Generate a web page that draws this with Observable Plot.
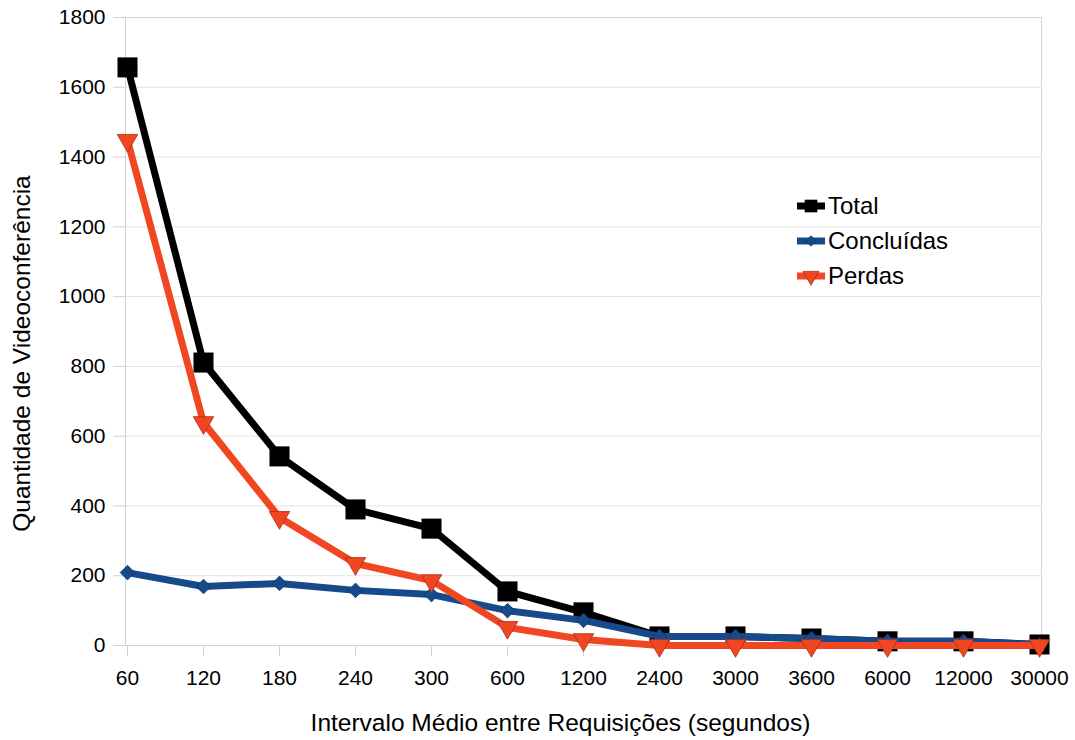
<!DOCTYPE html>
<html>
<head>
<meta charset="utf-8">
<script src="https://cdn.jsdelivr.net/npm/d3@7"></script>
<script src="https://cdn.jsdelivr.net/npm/@observablehq/plot@0.6"></script>
<style>
  body { margin: 0; background: #fff; font-family: "Liberation Sans", Arial, sans-serif; }
  #wrap { position: relative; width: 1075px; height: 740px; }
  #legend { position: absolute; left: 797px; top: 188px; font-size: 24px; color: #000; }
  #legend .row { display: flex; align-items: center; height: 35px; }
  #legend svg { margin-right: 3px; }
</style>
</head>
<body>
<div id="wrap"><div id="legend"></div></div>
<script>
const categories = ["60","120","180","240","300","600","1200","2400","3000","3600","6000","12000","30000"];
const total      = [1657, 811, 542, 390, 335, 155, 95, 26, 26, 20, 12, 12, 3];
const concluidas = [209, 169, 178, 158, 146, 100, 72, 26, 26, 20, 12, 12, 2];
const perdas     = [1448, 639, 367, 235, 186, 52, 17, 0, 0, 0, 0, 0, 0];
const seriesNames = ["Total", "Concluídas", "Perdas"];
const yTicks = [0, 200, 400, 600, 800, 1000, 1200, 1400, 1600, 1800];
const xTitle = "Intervalo Médio entre Requisições (segundos)";
const yTitle = "Quantidade de Videoconferência";

const colors = {"Total": "#000000", "Concluídas": "#174a8b", "Perdas": "#f04722"};
const symbols = {"Total": "square", "Concluídas": "diamond2", "Perdas": "triangle"};
const rotates = {"Total": 0, "Concluídas": 0, "Perdas": 180};
const radii = {"Total": 11.3, "Concluídas": 6.6, "Perdas": 7.6};
const strokes = {"Total": "none", "Concluídas": "#0e3566", "Perdas": "#a8301a"};

const rows = [];
[total, concluidas, perdas].forEach((vals, i) => {
  vals.forEach((v, j) => rows.push({series: seriesNames[i], cat: categories[j], value: v}));
});

const marks = [
  Plot.gridY(yTicks, {stroke: "#e3e3e3", strokeOpacity: 1}),
  Plot.frame({stroke: "#d2d2d2"}),
  Plot.axisY(yTicks, {tickSize: 12, tickPadding: 8, stroke: "#d2d2d2", fill: "#000", fontSize: 21, tickFormat: "d", label: null}),
  Plot.axisX({tickSize: 11, tickPadding: 14, stroke: "#d2d2d2", fill: "#000", fontSize: 21, label: null}),
  Plot.text([xTitle], {frameAnchor: "bottom", dx: -23, dy: 85, fontSize: 24.5, fill: "#000", text: d => d}),
  Plot.text([yTitle], {frameAnchor: "left", dx: -103, dy: 22, rotate: -90, textAnchor: "middle", fontSize: 24.5, fill: "#000", text: d => d})
];
for (const s of seriesNames) {
  const data = rows.filter(r => r.series === s);
  marks.push(Plot.line(data, {x: "cat", y: "value", stroke: colors[s], strokeWidth: 7}));
  marks.push(Plot.dot(data, {x: "cat", y: "value", symbol: symbols[s], r: radii[s], fill: colors[s], stroke: strokes[s], strokeWidth: 0.8, rotate: rotates[s]}));
}

const chart = Plot.plot({
  width: 1075,
  height: 740,
  marginLeft: 125,
  marginRight: 34,
  marginTop: 17,
  marginBottom: 95,
  style: {fontFamily: "Liberation Sans, Arial, sans-serif", fontSize: "21px", color: "#000", background: "#fff"},
  x: {type: "point", domain: categories, padding: 0},
  y: {domain: [0, 1800]},
  marks
});
document.getElementById("wrap").prepend(chart);

// legend
const legend = d3.select("#legend");
for (const s of seriesNames) {
  const row = legend.append("div").attr("class", "row");
  const svg = row.append("svg").attr("width", 28).attr("height", 24);
  svg.append("line").attr("x1", 0).attr("x2", 28).attr("y1", 12).attr("y2", 12)
    .attr("stroke", colors[s]).attr("stroke-width", 7);
  const symType = {"square": d3.symbolSquare, "diamond2": d3.symbolDiamond2, "triangle": d3.symbolTriangle}[symbols[s]];
  const size = {"Total": 160, "Concluídas": 70, "Perdas": 110}[s];
  svg.append("path").attr("d", d3.symbol(symType, size)())
    .attr("transform", `translate(14,12) rotate(${rotates[s]})`)
    .attr("fill", colors[s]).attr("stroke", strokes[s]).attr("stroke-width", 0.8);
  row.append("span").text(s);
}
</script>
</body>
</html>
